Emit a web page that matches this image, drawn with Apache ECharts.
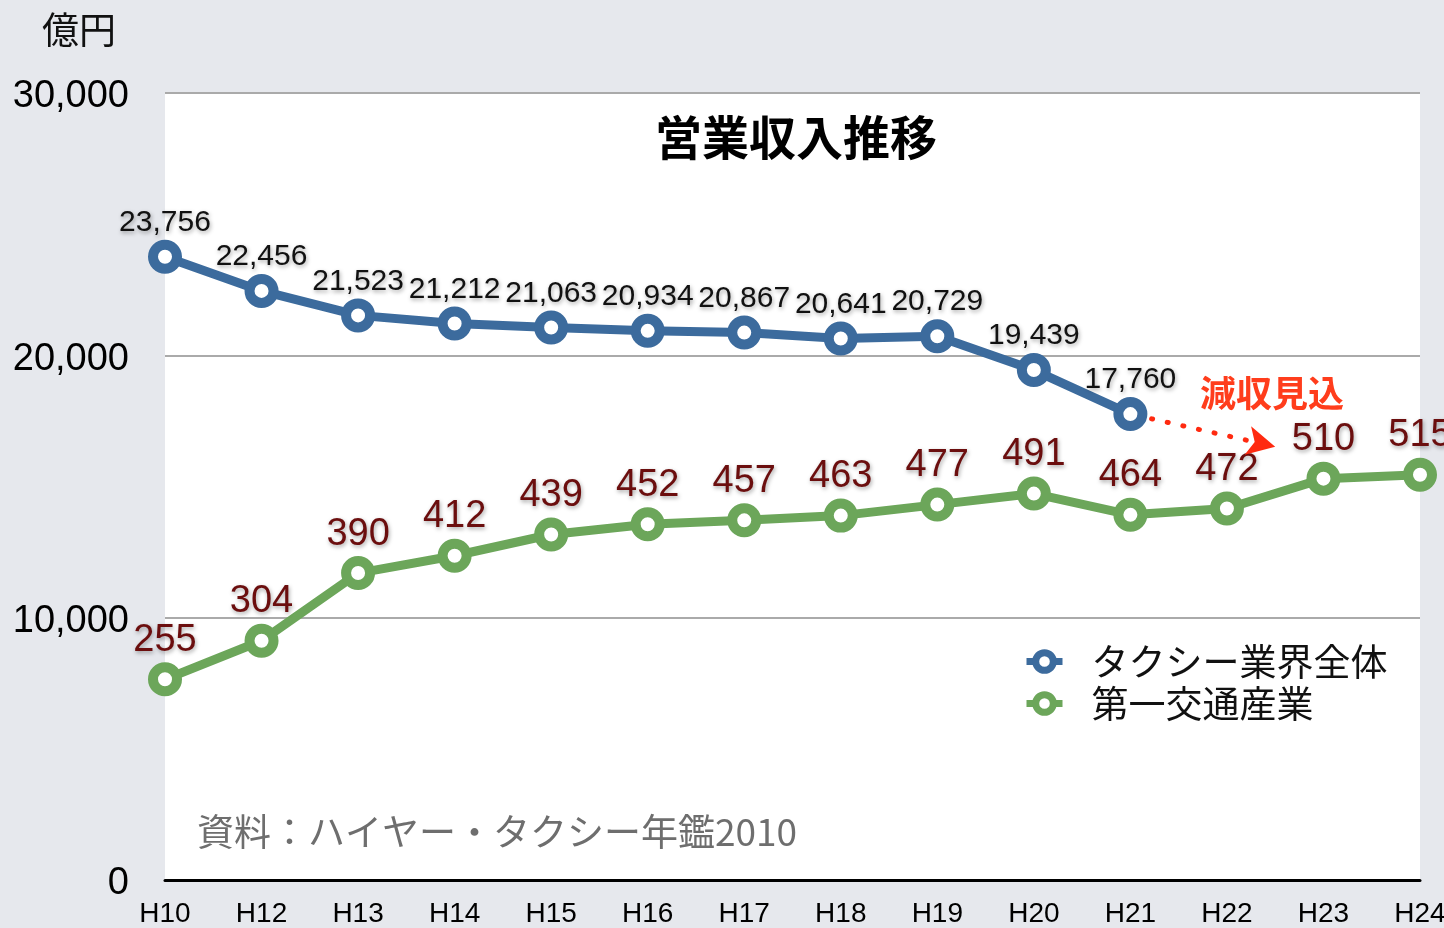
<!DOCTYPE html>
<html>
<head>
<meta charset="utf-8">
<script src="https://cdn.jsdelivr.net/npm/echarts@6/dist/echarts.min.js"></script>
<style>
  html, body { margin: 0; padding: 0; background: #e6e8ed; }
  #container { width: 1444px; height: 928px; }
</style>
</head>
<body>
<div id="container"></div>
<script>
// categories (平成 years, H11 is not in the source)
const years = ['H10', 'H12', 'H13', 'H14', 'H15', 'H16', 'H17', 'H18', 'H19', 'H20', 'H21', 'H22', 'H23', 'H24'];
// taxi industry total, 億円 (left axis)
const taxiTotal = [23756, 22456, 21523, 21212, 21063, 20934, 20867, 20641, 20729, 19439, 17760, null, null, null];
// 第一交通産業, 億円 (drawn on a hidden right scale)
const daiichi = [255, 304, 390, 412, 439, 452, 457, 463, 477, 491, 464, 472, 510, 515];
// forecast arrow: [category index, value on left axis]
const forecastArrow = [[10.22, 17580], [11.5, 16520]];

function draw_chart() {
    let dom = document.getElementById("container");
    let myChart = echarts.init(dom);

    const font = "'Liberation Sans', 'Noto Sans CJK JP', sans-serif";
    const jpFont = "'Noto Sans CJK JP', sans-serif";
    const blue = '#3c6b9d';
    const green = '#6ca65a';

    let labelShadow = {
        textShadowColor: 'rgba(0,0,0,0.35)',
        textShadowBlur: 4,
        textShadowOffsetX: 1,
        textShadowOffsetY: 2
    };

    let option = {
        backgroundColor: '#e6e8ed',
        title: [
            {text: '営業収入推移', left: 650, top: 109,
                textStyle: {fontFamily: jpFont, fontSize: 47, fontWeight: 'bold', color: '#000'}},
            {text: '億円', left: 37, top: 6,
                textStyle: {fontFamily: jpFont, fontSize: 37, fontWeight: 'normal', color: '#111'}},
            {text: '資料：ハイヤー・タクシー年鑑2010', left: 192, top: 808,
                textStyle: {fontFamily: jpFont, fontSize: 37, fontWeight: 'normal', color: '#6e6e6e'}},
            {text: '減収見込', left: 1195, top: 370,
                textStyle: {fontFamily: jpFont, fontSize: 36, fontWeight: 'bold', color: '#ff3d1c'}}
        ],
        legend: {
            data: ['タクシー業界全体', '第一交通産業'],
            orient: 'vertical',
            left: 1018,
            top: 638,
            itemWidth: 36,
            itemHeight: 22,
            itemGap: 5,
            itemStyle: {borderWidth: 7},
            lineStyle: {width: 7},
            textStyle: {fontFamily: jpFont, fontSize: 37, color: '#111', padding: [0, 0, 0, 24]}
        },
        grid: {
            left: 165,
            right: 24,
            top: 93,
            bottom: 48,
            outerBoundsMode: 'none',
            containLabel: false,
            show: true,
            backgroundColor: '#fff',
            borderWidth: 0
        },
        xAxis: [
            {
                type: 'category',
                data: years,
                boundaryGap: false,
                axisLine: {lineStyle: {color: '#000', width: 3}},
                axisTick: {show: false},
                axisLabel: {fontFamily: font, fontSize: 28, color: '#000', margin: 20}
            },
            {
                type: 'value',
                min: 0,
                max: years.length - 1,
                show: false
            }
        ],
        yAxis: [
            {
                type: 'value',
                min: 0,
                max: 30000,
                interval: 10000,
                axisLine: {show: false},
                axisTick: {show: false},
                splitLine: {lineStyle: {color: '#aaa', width: 2}},
                axisLabel: {
                    fontFamily: font, fontSize: 38, color: '#000', margin: 36,
                    verticalAlign: 'top',
                    lineHeight: 8,
                    formatter: v => v.toLocaleString('en-US')
                }
            },
            {
                type: 'value',
                min: 0,
                max: 1000,
                show: false,
                splitLine: {show: false}
            }
        ],
        series: [
            {
                name: 'タクシー業界全体',
                type: 'line',
                data: taxiTotal,
                symbol: 'circle',
                symbolSize: 24,
                z: 4,
                lineStyle: {color: blue, width: 9},
                itemStyle: {color: '#fff', borderColor: blue, borderWidth: 10},
                label: Object.assign({
                    show: true,
                    position: 'top',
                    distance: 2,
                    fontFamily: font,
                    fontSize: 30,
                    color: '#111',
                    formatter: p => p.value.toLocaleString('en-US')
                }, labelShadow)
            },
            {
                name: '第一交通産業',
                type: 'line',
                yAxisIndex: 1,
                data: daiichi,
                symbol: 'circle',
                symbolSize: 24,
                z: 3,
                lineStyle: {color: green, width: 9},
                itemStyle: {color: '#fff', borderColor: green, borderWidth: 10},
                label: Object.assign({
                    show: true,
                    position: 'top',
                    distance: 3,
                    fontFamily: font,
                    fontSize: 38,
                    color: '#6b0e0e'
                }, labelShadow)
            },
            {
                name: 'forecast',
                type: 'line',
                xAxisIndex: 1,
                data: [],
                silent: true,
                markLine: {
                    silent: true,
                    symbol: ['none', 'arrow'],
                    symbolSize: [22, 28],
                    label: {show: false},
                    lineStyle: {color: '#ff2a10', width: 5, type: [1, 15], cap: 'round'},
                    data: [[{coord: forecastArrow[0]}, {coord: forecastArrow[1]}]]
                }
            }
        ]
    };

    if (option && typeof option === "object") {
        myChart.setOption(option, true);
    }
}

draw_chart();
</script>
</body>
</html>
